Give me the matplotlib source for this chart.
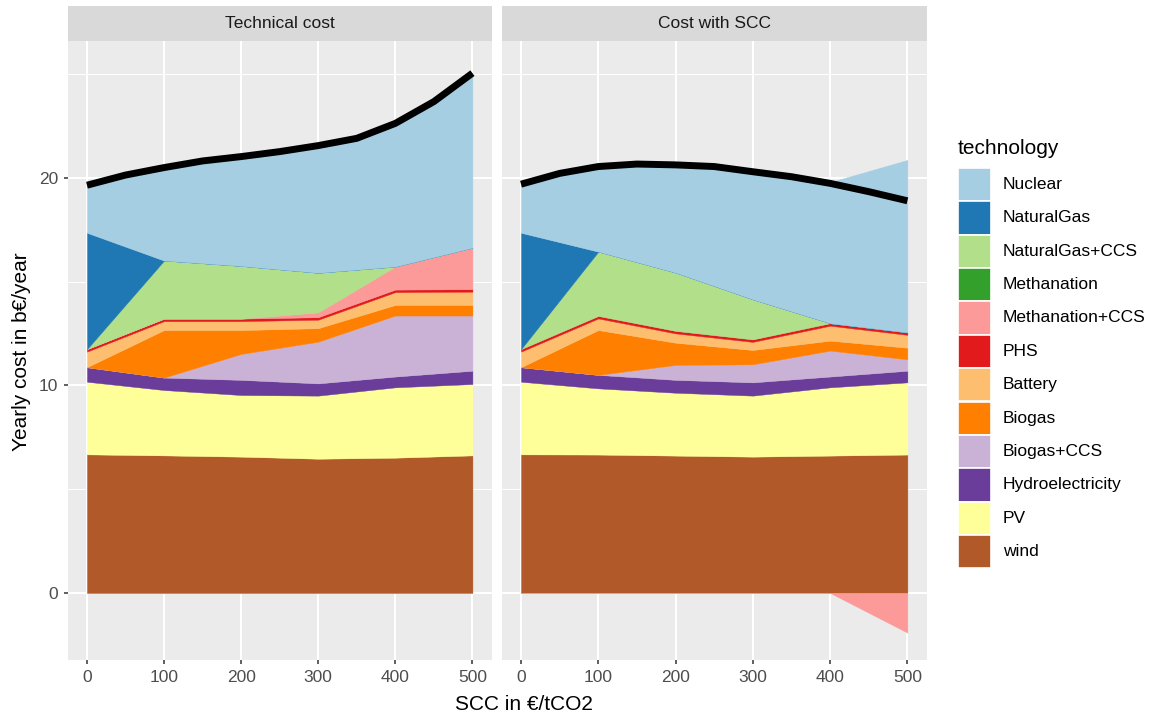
"""Yearly system cost by technology vs social cost of carbon (ggplot-like facets)."""

import matplotlib

matplotlib.use("Agg")

import matplotlib.pyplot as plt
import numpy as np
from matplotlib.patches import Rectangle

plt.rcParams["font.family"] = ["Liberation Sans", "DejaVu Sans"]

W, H = 1154, 721

# Data
scc = [0, 100, 200, 300, 400, 500]
scc_fine = [0, 50, 100, 150, 200, 250, 300, 350, 400, 450, 500]

technologies = ["Nuclear", "NaturalGas", "NaturalGas+CCS", "Methanation", "Methanation+CCS",
                "PHS", "Battery", "Biogas", "Biogas+CCS", "Hydroelectricity", "PV", "wind"]
colors = ["#A6CEE3", "#1F78B4", "#B2DF8A", "#33A02C", "#FB9A99", "#E31A1C",
          "#FDBF6F", "#FF7F00", "#CAB2D6", "#6A3D9A", "#FFFF99", "#B15928"]

# panel "Technical cost"
tech_nuclear = [2.29, 4.48, 5.27, 6.12, 6.90, 8.41]
tech_natgas = [5.61, 0.0, 0.0, 0.0, 0.0, 0.0]
tech_natgas_ccs = [0.0, 2.80, 2.54, 1.91, 0.0, 0.0]
tech_methanation = [0.0, 0.0, 0.0, 0.0, 0.0, 0.0]
tech_methanation_ccs = [0.0, 0.0, 0.0, 0.23, 1.11, 2.00]
tech_phs = [0.12, 0.12, 0.12, 0.12, 0.12, 0.12]
tech_battery = [0.75, 0.43, 0.43, 0.41, 0.62, 0.64]
tech_biogas = [0.0, 2.29, 1.15, 0.65, 0.51, 0.51]
tech_biogas_ccs = [0.0, 0.0, 1.25, 2.01, 2.94, 2.66]
tech_hydro = [0.70, 0.60, 0.73, 0.59, 0.52, 0.64]
tech_pv = [3.50, 3.15, 2.97, 3.04, 3.39, 3.44]
tech_wind = [6.68, 6.63, 6.57, 6.47, 6.52, 6.63]
tech_total = [19.65, 20.14, 20.50, 20.82, 21.03, 21.27, 21.56, 21.91, 22.63, 23.68, 25.05]

# panel "Cost with SCC"
scc_nuclear = [2.34, 4.10, 5.22, 6.15, 6.80, 8.31]
scc_natgas = [5.61, 0.0, 0.0, 0.0, 0.0, 0.0]
scc_natgas_ccs = [0.0, 3.10, 2.81, 1.93, 0.0, 0.0]
scc_methanation = [0.0, 0.0, 0.0, 0.0, 0.0, 0.0]
scc_methanation_ccs = [0.0, 0.0, 0.0, 0.0, 0.0, -1.91]
scc_phs = [0.12, 0.12, 0.12, 0.12, 0.12, 0.12]
scc_battery = [0.75, 0.56, 0.45, 0.39, 0.72, 0.62]
scc_biogas = [0.0, 2.16, 1.07, 0.69, 0.48, 0.56]
scc_biogas_ccs = [0.0, 0.0, 0.72, 0.87, 1.25, 0.55]
scc_hydro = [0.70, 0.65, 0.62, 0.64, 0.52, 0.56]
scc_pv = [3.50, 3.19, 3.03, 2.94, 3.29, 3.48]
scc_wind = [6.68, 6.67, 6.62, 6.57, 6.62, 6.67]
scc_total = [19.70, 20.22, 20.55, 20.67, 20.63, 20.55, 20.30, 20.06, 19.74, 19.34, 18.90]

panels = [
    ("Technical cost",
     [tech_nuclear, tech_natgas, tech_natgas_ccs, tech_methanation, tech_methanation_ccs, tech_phs,
      tech_battery, tech_biogas, tech_biogas_ccs, tech_hydro, tech_pv, tech_wind],
     tech_total),
    ("Cost with SCC",
     [scc_nuclear, scc_natgas, scc_natgas_ccs, scc_methanation, scc_methanation_ccs, scc_phs,
      scc_battery, scc_biogas, scc_biogas_ccs, scc_hydro, scc_pv, scc_wind],
     scc_total),
]


def px_axes(fig, x0, y0, x1, y1):
    return fig.add_axes([x0 / W, 1 - y1 / H, (x1 - x0) / W, (y1 - y0) / H])


fig = plt.figure(figsize=(W / 100, H / 100), dpi=100)
fig.patch.set_facecolor("white")

panel_x = [(67.7, 491.7), (501.7, 926.7)]
x = np.array(scc, dtype=float)

for i, (title, series, total) in enumerate(panels):
    x0, x1 = panel_x[i]
    ax = px_axes(fig, x0, 41, x1, 660)
    ax.set_facecolor("#EBEBEB")
    for s in ax.spines.values():
        s.set_visible(False)

    # stack like ggplot: wind at the bottom, positives up and negatives down
    pos_base = np.zeros_like(x)
    neg_base = np.zeros_like(x)
    for vals, col in zip(series[::-1], colors[::-1]):
        v = np.array(vals, dtype=float)
        pos = np.clip(v, 0, None)
        neg = np.clip(v, None, 0)
        if pos.any():
            ax.fill_between(x, pos_base, pos_base + pos, facecolor=col, edgecolor=col, lw=0.3, zorder=2)
        if neg.any():
            ax.fill_between(x, neg_base, neg_base + neg, facecolor=col, edgecolor=col, lw=0.3, zorder=2)
        pos_base = pos_base + pos
        neg_base = neg_base + neg

    ax.plot(scc_fine, total, color="black", lw=5, solid_capstyle="butt", solid_joinstyle="round", zorder=3)

    ax.set_xlim(-25, 525)
    ax.set_ylim(-3.23, 26.6)
    ax.set_xticks(scc)
    ax.set_yticks([0, 10, 20])
    ax.set_yticks([5, 15, 25], minor=True)
    ax.grid(True, which="major", color="white", lw=1.5, zorder=1)
    ax.grid(True, which="minor", axis="y", color="white", lw=0.75, zorder=1)
    ax.set_axisbelow(True)
    ax.tick_params(axis="both", which="major", colors="#333333", length=3, width=1.1,
                   labelsize=12.5, labelcolor="#4D4D4D", pad=4)
    ax.tick_params(axis="y", which="minor", length=0)
    if i > 0:
        ax.tick_params(axis="y", which="major", length=0, labelleft=False)

    # facet strip
    sax = px_axes(fig, x0, 6, x1, 41)
    sax.set_facecolor("#D9D9D9")
    sax.set_xticks([])
    sax.set_yticks([])
    for s in sax.spines.values():
        s.set_visible(False)
    sax.text(0.5, 0.5, title, ha="center", va="center", fontsize=12.5, color="#1A1A1A",
             transform=sax.transAxes)

fig.text(524 / W, 1 - 705 / H, "SCC in €/tCO2", ha="center", va="center", fontsize=15, color="black")
fig.text(22 / W, 1 - 352 / H, "Yearly cost in b€/year", ha="center", va="center", rotation=90,
         fontsize=15, color="black")

# legend drawn in pixel coordinates
lax = fig.add_axes([0, 0, 1, 1])
lax.set_xlim(0, W)
lax.set_ylim(H, 0)
lax.axis("off")
lax.text(958, 148, "technology", ha="left", va="center", fontsize=15, color="black")
key_top, key_h, key_w = 167.7, 33.4, 33
for k, (name, col) in enumerate(zip(technologies, colors)):
    y = key_top + k * key_h
    lax.add_patch(Rectangle((958, y), key_w, key_h, facecolor=col, edgecolor="white", lw=1.2))
    lax.text(1003, y + key_h / 2, name, ha="left", va="center", fontsize=12.5, color="black")

fig.savefig("out.png", dpi=100)
plt.close(fig)
